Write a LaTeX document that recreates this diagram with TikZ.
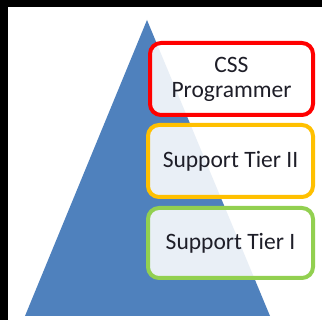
\documentclass[tikz,border=0pt]{standalone}
\usepackage{fontspec}
\setmainfont{Carlito}
\definecolor{triblue}{RGB}{79,129,189}
\definecolor{boxred}{RGB}{255,0,0}
\definecolor{boxorange}{RGB}{255,192,0}
\definecolor{boxgreen}{RGB}{146,208,80}
\definecolor{txt}{RGB}{30,30,40}
\tikzset{
  tierbox/.style={draw, line width=4pt, rounded corners=11pt, fill=white, fill opacity=0.88, text opacity=1,
    text=txt, align=center, inner sep=0pt, font=\fontsize{23.5}{25}\selectfont},
}
\begin{document}
\begin{tikzpicture}[x=1pt,y=-1pt]
\useasboundingbox (0,0) rectangle (322,320);
\fill[white] (0,0) rectangle (322,320);
\fill[black] (0,0) rectangle (8,320);
\fill[black] (0,0) rectangle (322,7);
\coordinate (apex) at (147,20);
\coordinate (bl) at (25,316);
\coordinate (br) at (270,316);
\fill[triblue] (apex) -- (br) -- (bl) -- cycle;
\node[tierbox, draw=boxred, minimum width=163pt, minimum height=72pt] (css) at (231.5,79) {CSS\\Programmer};
\node[tierbox, draw=boxorange, minimum width=165pt, minimum height=72pt] (tier2) at (230.5,161) {Support Tier II};
\node[tierbox, draw=boxgreen, minimum width=165pt, minimum height=70pt] (tier1) at (230.5,243) {Support Tier I};
\end{tikzpicture}
\end{document}
